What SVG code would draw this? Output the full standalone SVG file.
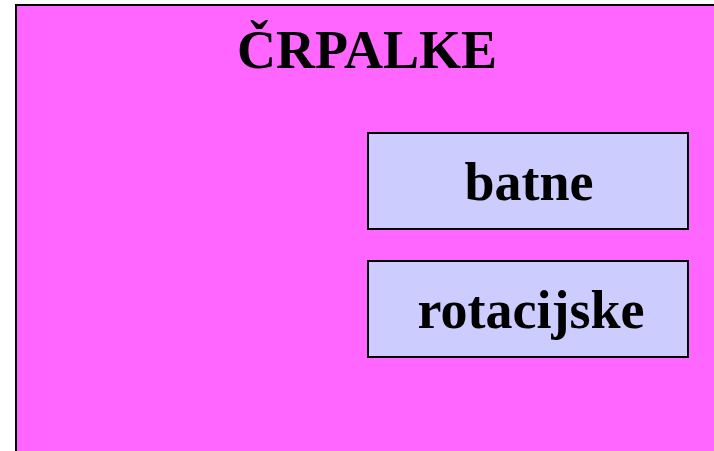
<svg xmlns="http://www.w3.org/2000/svg" width="714" height="451" viewBox="0 0 714 451">
<style>
.t{font-family:"Liberation Serif","Times New Roman",serif;font-weight:bold;font-size:54px;fill:#000;text-anchor:middle}
.box{fill:#CCCCFF;stroke:#000;stroke-width:2}
</style>
<rect width="714" height="451" fill="#fff"/>
<g id="main">
<rect x="16" y="5" width="710" height="460" fill="#FF66FF" stroke="#000" stroke-width="2"/>
<text class="t" x="367" y="68">ČRPALKE</text>
</g>
<g id="batne">
<rect class="box" x="368" y="133" width="320" height="96"/>
<text class="t" x="529" y="200">batne</text>
</g>
<g id="rotacijske">
<rect class="box" x="368" y="261" width="320" height="96"/>
<text class="t" x="531" y="328">rotacijske</text>
</g>
<g id="connectors"></g>
</svg>
